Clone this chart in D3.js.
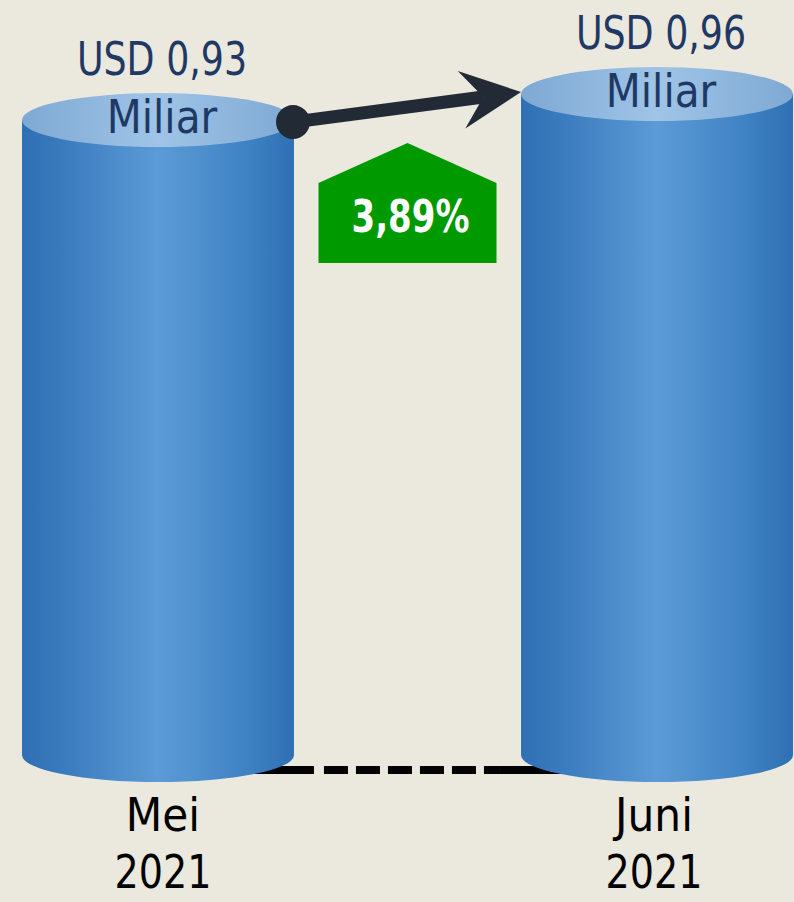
<!DOCTYPE html>
<html>
<head>
<meta charset="utf-8">
<script src="https://cdn.jsdelivr.net/npm/d3@7"></script>
<style>
  html, body { margin: 0; padding: 0; background: #ebe8de; }
  svg { display: block; }
  text { font-family: "Liberation Sans Narrow", "DejaVu Sans Condensed", sans-serif; }
</style>
</head>
<body>
<div id="chart"></div>
<script>
// data
var months = ["Mei", "Juni"];
var years = ["2021", "2021"];
var values = [0.93, 0.96];
var valueLabels = ["USD 0,93", "USD 0,96"];
var unitLabel = "Miliar";
var changeLabel = "3,89%";

var width = 794, height = 902;
var ry = 27;

var svg = d3.select("#chart").append("svg")
  .attr("width", width)
  .attr("height", height);

var x = d3.scaleBand()
  .domain(months)
  .range([22, 793])
  .paddingInner(0.455)
  .paddingOuter(0);

var y = d3.scaleLinear()
  .domain([0.2, 0.96])
  .range([755, 94]);

var bw = x.bandwidth();

// squeeze wide fallback glyphs toward the narrow original face
function condense(sel, k) {
  sel.each(function() {
    var w = this.getComputedTextLength();
    d3.select(this)
      .attr("textLength", w * k)
      .attr("lengthAdjust", "spacingAndGlyphs");
  });
}

var defs = svg.append("defs");
var sideGrad = defs.append("linearGradient").attr("id", "side")
  .attr("x1", "0%").attr("x2", "100%").attr("y1", "0%").attr("y2", "0%");
sideGrad.append("stop").attr("offset", "0%").attr("stop-color", "#2e70b3");
sideGrad.append("stop").attr("offset", "15%").attr("stop-color", "#3a7bbe");
sideGrad.append("stop").attr("offset", "50%").attr("stop-color", "#5b9bd6");
sideGrad.append("stop").attr("offset", "82%").attr("stop-color", "#4083c4");
sideGrad.append("stop").attr("offset", "100%").attr("stop-color", "#2e70b3");

var topGrad = defs.append("linearGradient").attr("id", "topgrad")
  .attr("x1", "0%").attr("x2", "100%").attr("y1", "0%").attr("y2", "0%");
topGrad.append("stop").attr("offset", "0%").attr("stop-color", "#7ea9d3");
topGrad.append("stop").attr("offset", "50%").attr("stop-color", "#9fc4e7");
topGrad.append("stop").attr("offset", "100%").attr("stop-color", "#7ea9d3");

// dashed baseline between the bottoms
var x1 = x(months[0]), x2 = x(months[1]);
var lineY = y(0.2) + 15;
svg.append("line")
  .attr("x1", x1 + bw / 2).attr("x2", x1 + bw + 20)
  .attr("y1", lineY).attr("y2", lineY)
  .attr("stroke", "#000").attr("stroke-width", 8);
svg.append("line")
  .attr("x1", x1 + bw + 30).attr("x2", x2 - 22)
  .attr("y1", lineY).attr("y2", lineY)
  .attr("stroke", "#000").attr("stroke-width", 8)
  .attr("stroke-dasharray", "24,8");
svg.append("line")
  .attr("x1", x2 - 22).attr("x2", x2 + bw / 2)
  .attr("y1", lineY).attr("y2", lineY)
  .attr("stroke", "#000").attr("stroke-width", 8);

// cylinders
var cyl = svg.selectAll("g.cyl")
  .data(values)
  .enter()
  .append("g")
  .attr("class", "cyl");

cyl.append("path")
  .attr("d", function(d, i) {
    var l = x(months[i]), r = l + bw, t = y(d), b = y(0.2);
    return "M" + l + "," + t + " L" + l + "," + b +
      " A" + (bw / 2) + "," + ry + " 0 0 0 " + r + "," + b +
      " L" + r + "," + t + " Z";
  })
  .attr("fill", "url(#side)");

cyl.append("ellipse")
  .attr("cx", function(d, i) { return x(months[i]) + bw / 2; })
  .attr("cy", function(d) { return y(d); })
  .attr("rx", bw / 2)
  .attr("ry", ry)
  .attr("fill", "url(#topgrad)");

cyl.append("text")
  .attr("x", function(d, i) { return x(months[i]) + bw / 2 + 4; })
  .attr("y", function(d) { return y(d) - 45; })
  .attr("text-anchor", "middle")
  .attr("font-size", 47)
  .attr("fill", "#1f3864")
  .text(function(d, i) { return valueLabels[i]; })
  .call(condense, 0.86);

cyl.append("text")
  .attr("x", function(d, i) { return x(months[i]) + bw / 2 + 4; })
  .attr("y", function(d) { return y(d) + 13; })
  .attr("text-anchor", "middle")
  .attr("font-size", 47)
  .attr("fill", "#1f3864")
  .text(unitLabel)
  .call(condense, 0.96);

// category labels
cyl.append("text")
  .attr("x", function(d, i) { return x(months[i]) + bw / 2 + (i ? -3 : 5); })
  .attr("y", 831)
  .attr("text-anchor", "middle")
  .attr("font-size", 47)
  .attr("fill", "#000")
  .text(function(d, i) { return months[i]; });

cyl.append("text")
  .attr("x", function(d, i) { return x(months[i]) + bw / 2 + (i ? -3 : 5); })
  .attr("y", 888)
  .attr("text-anchor", "middle")
  .attr("font-size", 47)
  .attr("fill", "#000")
  .text(function(d, i) { return years[i]; })
  .call(condense, 0.9);

// arrow from first top to second top
var sx = x1 + bw - 1, sy = y(values[0]) + 2;
var ex = x2, ey = y(values[1]) - 2;
var dx = ex - sx, dy = ey - sy, len = Math.sqrt(dx * dx + dy * dy);
var ux = dx / len, uy = dy / len, nx = -uy, ny = ux;
var notchX = ex - 38 * ux, notchY = ey - 38 * uy;

svg.append("line")
  .attr("x1", sx).attr("y1", sy)
  .attr("x2", notchX).attr("y2", notchY)
  .attr("stroke", "#222a35").attr("stroke-width", 13);

svg.append("path")
  .attr("d", "M" + ex + "," + ey +
    " L" + (ex - 60 * ux + 29 * nx) + "," + (ey - 60 * uy + 29 * ny) +
    " L" + notchX + "," + notchY +
    " L" + (ex - 60 * ux - 29 * nx) + "," + (ey - 60 * uy - 29 * ny) + " Z")
  .attr("fill", "#222a35");

svg.append("circle")
  .attr("cx", sx).attr("cy", sy).attr("r", 17)
  .attr("fill", "#222a35");

// growth badge
var bx = (x1 + bw + x2) / 2;
var badge = svg.append("g").attr("transform", "translate(" + bx + ",0)");
badge.append("path")
  .attr("d", "M-89,263 L-89,183 L0,143 L89,183 L89,263 Z")
  .attr("fill", "#009900");
badge.append("text")
  .attr("x", 3)
  .attr("y", 232)
  .attr("text-anchor", "middle")
  .attr("font-size", 45)
  .attr("font-weight", "bold")
  .attr("fill", "#fff")
  .text(changeLabel)
  .call(condense, 0.84);
</script>
</body>
</html>
